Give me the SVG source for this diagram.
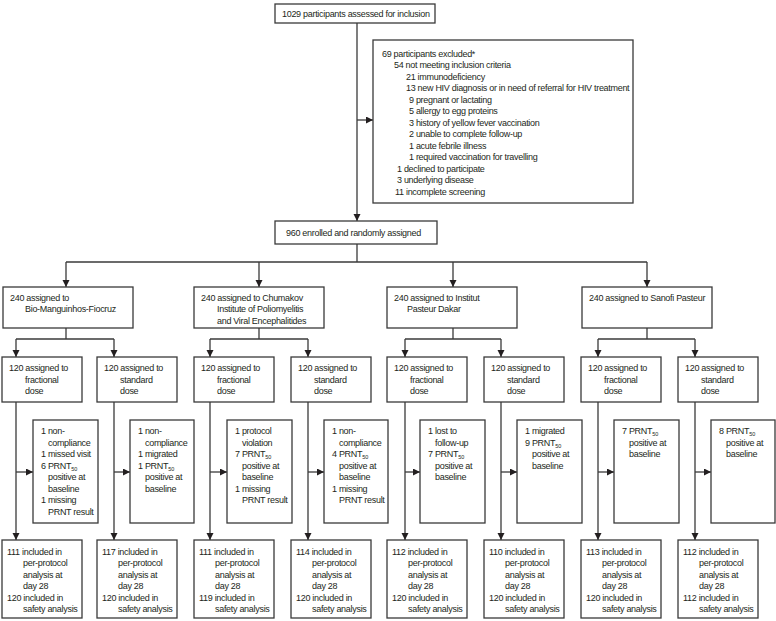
<svg xmlns="http://www.w3.org/2000/svg" width="776" height="621" viewBox="0 0 776 621">
<defs>
<style>
.box{fill:#fff;stroke:#3a3a3a;stroke-width:1.3}
.ln{fill:none;stroke:#3a3a3a;stroke-width:1.3}
.arr{marker-end:url(#ah)}
text{font-family:"Liberation Sans",Arial,sans-serif;font-size:9px;letter-spacing:-0.3px;fill:#231f20}
.sub{font-size:5.5px;letter-spacing:0}
</style>
<marker id="ah" markerWidth="8" markerHeight="8" refX="7" refY="3.5" orient="auto" markerUnits="userSpaceOnUse">
<path d="M0,0 L7,3.5 L0,7 z" fill="#231f20"/>
</marker>
</defs>
<rect width="776" height="621" fill="#fff"/>

<g id="connectors">
<line class="ln arr" x1="357" y1="23" x2="357" y2="221"/>
<line class="ln arr" x1="357" y1="120" x2="373" y2="120"/>
<line class="ln" x1="357" y1="244" x2="357" y2="262"/>
<line class="ln" x1="66" y1="262" x2="647" y2="262"/>
<line class="ln arr" x1="66" y1="262" x2="66" y2="287"/>
<line class="ln arr" x1="259" y1="262" x2="259" y2="287"/>
<line class="ln arr" x1="453" y1="262" x2="453" y2="287"/>
<line class="ln arr" x1="647" y1="262" x2="647" y2="287"/>
<line class="ln" x1="66" y1="328" x2="66" y2="339"/>
<line class="ln" x1="259" y1="328" x2="259" y2="339"/>
<line class="ln" x1="453" y1="328" x2="453" y2="339"/>
<line class="ln" x1="647" y1="328" x2="647" y2="339"/>
<line class="ln" x1="16" y1="339" x2="114" y2="339"/>
<line class="ln" x1="210" y1="339" x2="308" y2="339"/>
<line class="ln" x1="405" y1="339" x2="501" y2="339"/>
<line class="ln" x1="598" y1="339" x2="695" y2="339"/>
<g class="ln arr">
<line x1="16" y1="339" x2="16" y2="357"/>
<line x1="114" y1="339" x2="114" y2="357"/>
<line x1="210" y1="339" x2="210" y2="357"/>
<line x1="308" y1="339" x2="308" y2="357"/>
<line x1="405" y1="339" x2="405" y2="357"/>
<line x1="501" y1="339" x2="501" y2="357"/>
<line x1="598" y1="339" x2="598" y2="357"/>
<line x1="695" y1="339" x2="695" y2="357"/>
<line x1="16" y1="402" x2="16" y2="540"/>
<line x1="114" y1="402" x2="114" y2="540"/>
<line x1="210" y1="402" x2="210" y2="540"/>
<line x1="308" y1="402" x2="308" y2="540"/>
<line x1="405" y1="402" x2="405" y2="540"/>
<line x1="501" y1="402" x2="501" y2="540"/>
<line x1="598" y1="402" x2="598" y2="540"/>
<line x1="695" y1="402" x2="695" y2="540"/>
<line x1="16" y1="472" x2="33" y2="472"/>
<line x1="114" y1="472" x2="130" y2="472"/>
<line x1="210" y1="472" x2="227" y2="472"/>
<line x1="308" y1="472" x2="324" y2="472"/>
<line x1="405" y1="472" x2="420" y2="472"/>
<line x1="501" y1="472" x2="517" y2="472"/>
<line x1="598" y1="472" x2="614" y2="472"/>
<line x1="695" y1="472" x2="711" y2="472"/>
</g>
</g>

<g id="assessed">
<rect class="box" x="275" y="4" width="160" height="19"/>
<text x="282" y="16.5">1029 participants assessed for inclusion</text>
</g>

<g id="excluded">
<rect class="box" x="373" y="40" width="260" height="163"/>
<text x="382" y="56.5">69 participants excluded*</text>
<text x="394" y="68">54 not meeting inclusion criteria</text>
<text x="406" y="79.5">21 immunodeficiency</text>
<text x="406" y="91">13 new HIV diagnosis or in need of referral for HIV treatment</text>
<text x="409" y="102.5">9 pregnant or lactating</text>
<text x="409" y="114">5 allergy to egg proteins</text>
<text x="409" y="125.5">3 history of yellow fever vaccination</text>
<text x="409" y="137">2 unable to complete follow-up</text>
<text x="409" y="148.5">1 acute febrile illness</text>
<text x="409" y="160">1 required vaccination for travelling</text>
<text x="397" y="171.5">1 declined to participate</text>
<text x="397" y="183">3 underlying disease</text>
<text x="395" y="194.5">11 incomplete screening</text>
</g>

<g id="enrolled">
<rect class="box" x="275" y="221" width="162" height="23"/>
<text x="286" y="236">960 enrolled and randomly assigned</text>
</g>

<g id="site-bio">
<rect class="box" x="3" y="287" width="130" height="41"/>
<text x="10" y="300.5">240 assigned to</text>
<text x="25" y="312">Bio-Manguinhos-Fiocruz</text>
</g>
<g id="site-chumakov">
<rect class="box" x="194" y="287" width="130" height="41"/>
<text x="201" y="300.5">240 assigned to Chumakov</text>
<text x="217" y="312">Institute of Poliomyelitis</text>
<text x="217" y="323.5">and Viral Encephalitides</text>
</g>
<g id="site-ipd">
<rect class="box" x="387" y="287" width="130" height="41"/>
<text x="394" y="300.5">240 assigned to Institut</text>
<text x="407" y="312">Pasteur Dakar</text>
</g>
<g id="site-sanofi">
<rect class="box" x="582" y="287" width="130" height="41"/>
<text x="589" y="300.5">240 assigned to Sanofi Pasteur</text>
</g>

<g id="dose-1f"><rect class="box" x="2" y="357" width="80" height="45"/><text x="9" y="371">120 assigned to</text><text x="25" y="382.5">fractional</text><text x="25" y="394">dose</text></g>
<g id="dose-1s"><rect class="box" x="97" y="357" width="80" height="45"/><text x="104" y="371">120 assigned to</text><text x="120" y="382.5">standard</text><text x="120" y="394">dose</text></g>
<g id="dose-2f"><rect class="box" x="194" y="357" width="80" height="45"/><text x="201" y="371">120 assigned to</text><text x="217" y="382.5">fractional</text><text x="217" y="394">dose</text></g>
<g id="dose-2s"><rect class="box" x="291" y="357" width="80" height="45"/><text x="298" y="371">120 assigned to</text><text x="314" y="382.5">standard</text><text x="314" y="394">dose</text></g>
<g id="dose-3f"><rect class="box" x="387" y="357" width="80" height="45"/><text x="394" y="371">120 assigned to</text><text x="410" y="382.5">fractional</text><text x="410" y="394">dose</text></g>
<g id="dose-3s"><rect class="box" x="484" y="357" width="80" height="45"/><text x="491" y="371">120 assigned to</text><text x="507" y="382.5">standard</text><text x="507" y="394">dose</text></g>
<g id="dose-4f"><rect class="box" x="581" y="357" width="80" height="45"/><text x="588" y="371">120 assigned to</text><text x="604" y="382.5">fractional</text><text x="604" y="394">dose</text></g>
<g id="dose-4s"><rect class="box" x="678" y="357" width="80" height="45"/><text x="685" y="371">120 assigned to</text><text x="701" y="382.5">standard</text><text x="701" y="394">dose</text></g>

<g id="excl-1f"><rect class="box" x="33" y="420" width="65" height="103"/>
<text x="41" y="434">1 non-</text><text x="48" y="445.5">compliance</text><text x="41" y="457">1 missed visit</text><text x="41" y="468.5">6 PRNT<tspan class="sub" dy="2">50</tspan></text><text x="48" y="480">positive at</text><text x="48" y="491.5">baseline</text><text x="41" y="503">1 missing</text><text x="48" y="514.5">PRNT result</text></g>
<g id="excl-1s"><rect class="box" x="130" y="420" width="64" height="103"/>
<text x="138" y="434">1 non-</text><text x="145" y="445.5">compliance</text><text x="138" y="457">1 migrated</text><text x="138" y="468.5">1 PRNT<tspan class="sub" dy="2">50</tspan></text><text x="145" y="480">positive at</text><text x="145" y="491.5">baseline</text></g>
<g id="excl-2f"><rect class="box" x="227" y="420" width="65" height="103"/>
<text x="235" y="434">1 protocol</text><text x="242" y="445.5">violation</text><text x="235" y="457">7 PRNT<tspan class="sub" dy="2">50</tspan></text><text x="242" y="468.5">positive at</text><text x="242" y="480">baseline</text><text x="235" y="491.5">1 missing</text><text x="242" y="503">PRNT result</text></g>
<g id="excl-2s"><rect class="box" x="324" y="420" width="64" height="103"/>
<text x="332" y="434">1 non-</text><text x="339" y="445.5">compliance</text><text x="332" y="457">4 PRNT<tspan class="sub" dy="2">50</tspan></text><text x="339" y="468.5">positive at</text><text x="339" y="480">baseline</text><text x="332" y="491.5">1 missing</text><text x="339" y="503">PRNT result</text></g>
<g id="excl-3f"><rect class="box" x="420" y="420" width="65" height="103"/>
<text x="428" y="434">1 lost to</text><text x="435" y="445.5">follow-up</text><text x="428" y="457">7 PRNT<tspan class="sub" dy="2">50</tspan></text><text x="435" y="468.5">positive at</text><text x="435" y="480">baseline</text></g>
<g id="excl-3s"><rect class="box" x="517" y="420" width="65" height="103"/>
<text x="525" y="434">1 migrated</text><text x="525" y="445.5">9 PRNT<tspan class="sub" dy="2">50</tspan></text><text x="532" y="457">positive at</text><text x="532" y="468.5">baseline</text></g>
<g id="excl-4f"><rect class="box" x="614" y="420" width="65" height="103"/>
<text x="622" y="434">7 PRNT<tspan class="sub" dy="2">50</tspan></text><text x="629" y="445.5">positive at</text><text x="629" y="457">baseline</text></g>
<g id="excl-4s"><rect class="box" x="711" y="420" width="64" height="103"/>
<text x="719" y="434">8 PRNT<tspan class="sub" dy="2">50</tspan></text><text x="726" y="445.5">positive at</text><text x="726" y="457">baseline</text></g>

<g id="final-1f"><rect class="box" x="2" y="540" width="80" height="78"/><text x="7" y="554.5">111 included in</text><text x="23" y="566">per-protocol</text><text x="23" y="577.5">analysis at</text><text x="23" y="589">day 28</text><text x="7" y="600.5">120 included in</text><text x="23" y="612">safety analysis</text></g>
<g id="final-1s"><rect class="box" x="97" y="540" width="80" height="78"/><text x="102" y="554.5">117 included in</text><text x="118" y="566">per-protocol</text><text x="118" y="577.5">analysis at</text><text x="118" y="589">day 28</text><text x="102" y="600.5">120 included in</text><text x="118" y="612">safety analysis</text></g>
<g id="final-2f"><rect class="box" x="194" y="540" width="80" height="78"/><text x="199" y="554.5">111 included in</text><text x="215" y="566">per-protocol</text><text x="215" y="577.5">analysis at</text><text x="215" y="589">day 28</text><text x="199" y="600.5">119 included in</text><text x="215" y="612">safety analysis</text></g>
<g id="final-2s"><rect class="box" x="291" y="540" width="80" height="78"/><text x="296" y="554.5">114 included in</text><text x="312" y="566">per-protocol</text><text x="312" y="577.5">analysis at</text><text x="312" y="589">day 28</text><text x="296" y="600.5">120 included in</text><text x="312" y="612">safety analysis</text></g>
<g id="final-3f"><rect class="box" x="387" y="540" width="80" height="78"/><text x="392" y="554.5">112 included in</text><text x="408" y="566">per-protocol</text><text x="408" y="577.5">analysis at</text><text x="408" y="589">day 28</text><text x="392" y="600.5">120 included in</text><text x="408" y="612">safety analysis</text></g>
<g id="final-3s"><rect class="box" x="484" y="540" width="80" height="78"/><text x="489" y="554.5">110 included in</text><text x="505" y="566">per-protocol</text><text x="505" y="577.5">analysis at</text><text x="505" y="589">day 28</text><text x="489" y="600.5">120 included in</text><text x="505" y="612">safety analysis</text></g>
<g id="final-4f"><rect class="box" x="581" y="540" width="80" height="78"/><text x="586" y="554.5">113 included in</text><text x="602" y="566">per-protocol</text><text x="602" y="577.5">analysis at</text><text x="602" y="589">day 28</text><text x="586" y="600.5">120 included in</text><text x="602" y="612">safety analysis</text></g>
<g id="final-4s"><rect class="box" x="678" y="540" width="80" height="78"/><text x="683" y="554.5">112 included in</text><text x="699" y="566">per-protocol</text><text x="699" y="577.5">analysis at</text><text x="699" y="589">day 28</text><text x="683" y="600.5">112 included in</text><text x="699" y="612">safety analysis</text></g>
</svg>
